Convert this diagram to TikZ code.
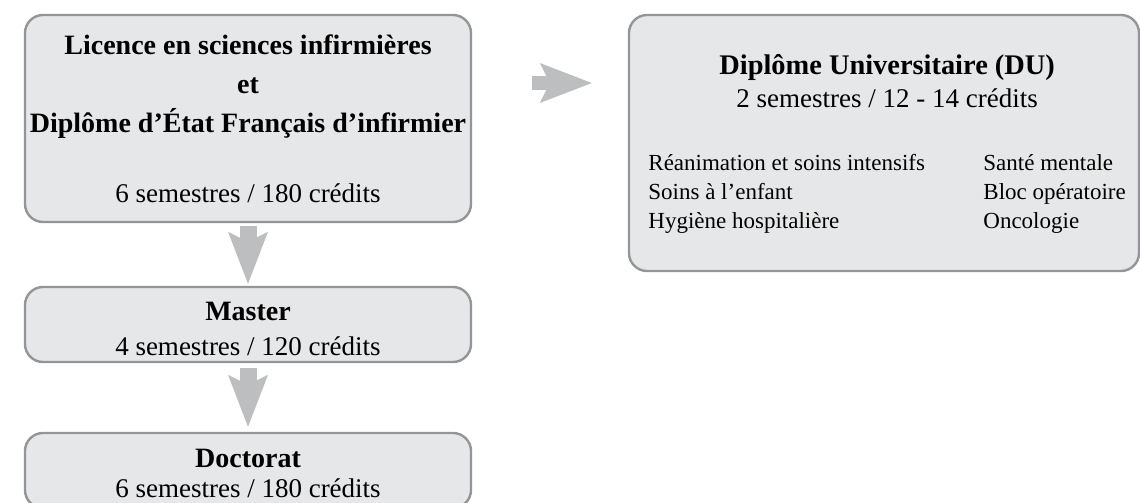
\documentclass[tikz,border=0pt]{standalone}
\usepackage{fontspec}
\setmainfont{Liberation Serif}
\usepackage{xcolor}
\usetikzlibrary{arrows.meta}
\usetikzlibrary{positioning}
\definecolor{cursus-fond}{HTML}{E6E7E8}
\definecolor{cursus-bord}{HTML}{939598}
\definecolor{cursus-fleche}{HTML}{BCBEC0}

\tikzset{
    cursus/.style={draw=cursus-bord, fill=cursus-fond, line width=1.2pt,
                   rounded corners=9pt, align=center, inner sep=0pt},
    fleche/.style={draw=cursus-fleche, line width=#1,
                   -{Stealth[length=26pt, width=20pt, inset=5pt, line width=0pt]}},
    fleche/.default=8.5pt
}

\begin{document}
\begin{tikzpicture}[x=0.5pt, y=-0.5pt]

    \useasboundingbox (0,0) rectangle (1140,503);

    % left column
    \node[cursus, minimum width=223pt, minimum height=103.5pt,
          font=\fontsize{14}{19.5}\selectfont] (licence) at (248,118.5) {
        \bfseries Licence en sciences infirmières\\
        \bfseries et\\
        \bfseries Diplôme d’État Français d’infirmier\\[15.5pt]
        \fontsize{13.5}{19.5}\selectfont 6 semestres / 180 crédits
    };
    \node[cursus, minimum width=223pt, minimum height=37.5pt,
          font=\fontsize{13.5}{17.5}\selectfont] (master) at (248,324.5) {
        \rule{0pt}{14pt}\bfseries\fontsize{14}{17.5}\selectfont Master\\
        4 semestres / 120 crédits
    };
    \node[cursus, minimum width=223pt, minimum height=37.5pt,
          font=\fontsize{13.5}{15}\selectfont] (doctorat) at (248,470.5) {
        \rule{0pt}{12pt}\bfseries\fontsize{14}{15}\selectfont Doctorat\\
        6 semestres / 180 crédits
    };

    % right box
    \node[cursus, minimum width=255pt, minimum height=128pt,
          font=\fontsize{11.5}{14.5}\selectfont] (du) at (884,143) {
        \begin{tabular}{@{\hspace{6pt}}p{167.5pt}@{}l@{}}
            \multicolumn{2}{@{\hspace{6pt}}c@{}}{\rule{0pt}{13.2pt}\fontsize{14.2}{16}\selectfont\bfseries Diplôme Universitaire (DU)}\\[2pt]
            \multicolumn{2}{@{\hspace{6pt}}c@{}}{\fontsize{13.5}{16}\selectfont 2 semestres / 12 - 14 crédits}\\[17pt]
            Réanimation et soins intensifs & Santé mentale\\
            Soins à l’enfant & Bloc opératoire\\
            Hygiène hospitalière & Oncologie
        \end{tabular}
    };

    % arrows
    \coordinate (depart) at (532,83);
    \draw[fleche, shorten <=1.5pt, shorten >=1pt] (licence.south) -- (master.north);
    \draw[fleche, shorten <=2.5pt, shorten >=2.5pt] (master.south) -- (doctorat.north);
    \draw[fleche=7pt, shorten >=18pt] (depart) -- (depart -| du.west);

\end{tikzpicture}
\end{document}
